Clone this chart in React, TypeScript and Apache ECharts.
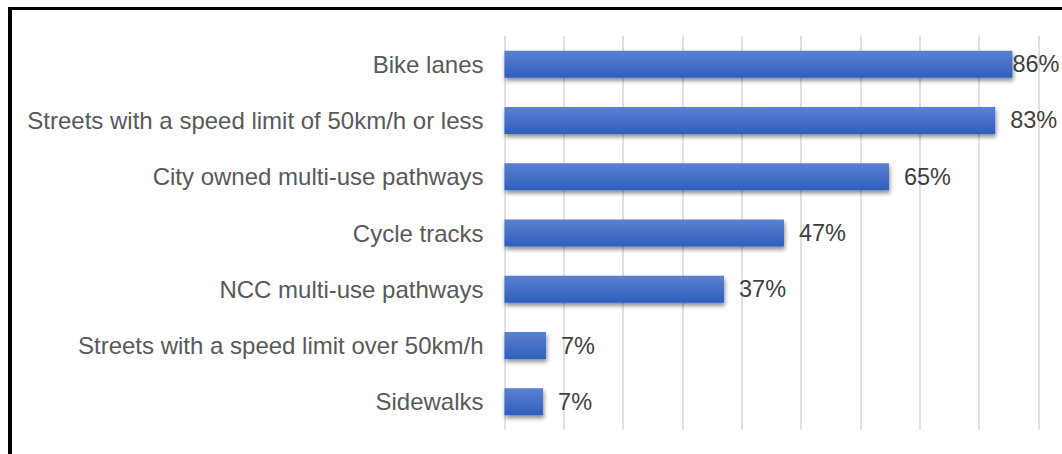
import React, { useEffect, useRef } from "react";
import * as echarts from "echarts";

const categories = [
  "Bike lanes",
  "Streets with a speed limit of 50km/h or less",
  "City owned multi-use pathways",
  "Cycle tracks",
  "NCC multi-use pathways",
  "Streets with a speed limit over 50km/h",
  "Sidewalks",
];
const values = [85.6, 82.7, 64.8, 47.1, 37.0, 7.0, 6.5];
const axisMax = 90;
const axisInterval = 10;

export default function App() {
  const ref = useRef<HTMLDivElement>(null);
  useEffect(() => {
    if (!ref.current) return;
    const chart = echarts.init(ref.current, undefined, { renderer: "svg" });
    const font = "'Liberation Sans', Arial, sans-serif";
    chart.setOption({
      animation: false,
      backgroundColor: "#ffffff",
      grid: { left: 504.5, right: 23.5, top: 36, bottom: 24, containLabel: false },
      xAxis: {
        type: "value",
        min: 0,
        max: axisMax,
        interval: axisInterval,
        axisLabel: { show: false },
        axisLine: { show: false },
        axisTick: { show: false },
        splitLine: { show: true, lineStyle: { color: "#d9d9d9", width: 1.6 } },
      },
      yAxis: {
        type: "category",
        data: categories,
        inverse: true,
        axisLine: { show: false },
        axisTick: { show: false },
        axisLabel: {
          margin: 21,
          color: "#595959",
          fontSize: 24,
          fontFamily: font,
        },
      },
      series: [
        {
          type: "bar",
          barWidth: 27,
          data: values.map((v, i) => ({
            value: v,
            label: i === 0 ? { distance: 0 } : undefined,
          })),
          itemStyle: {
            color: new echarts.graphic.LinearGradient(0, 0, 0, 1, [
              { offset: 0, color: "#5c80d1" },
              { offset: 1, color: "#2f5fbf" },
            ]),
            shadowColor: "rgba(0,0,0,0.45)",
            shadowBlur: 4,
            shadowOffsetX: 1,
            shadowOffsetY: 3,
          },
          label: {
            show: true,
            position: "right",
            distance: 15,
            color: "#404040",
            fontSize: 23.5,
            fontFamily: font,
            formatter: (p: any) => Math.round(p.value) + "%",
          },
        },
      ],
      graphic: [
        { type: "rect", left: 8, top: 7, shape: { width: 4, height: 460 }, style: { fill: "#000" }, z: 100 },
        { type: "rect", left: 8, top: 7, shape: { width: 1100, height: 3 }, style: { fill: "#000" }, z: 100 },
      ],
    });
    return () => chart.dispose();
  }, []);
  return (
    <div
      ref={ref}
      style={{ position: "fixed", left: 0, top: 0, width: 1062, height: 454 }}
    />
  );
}
